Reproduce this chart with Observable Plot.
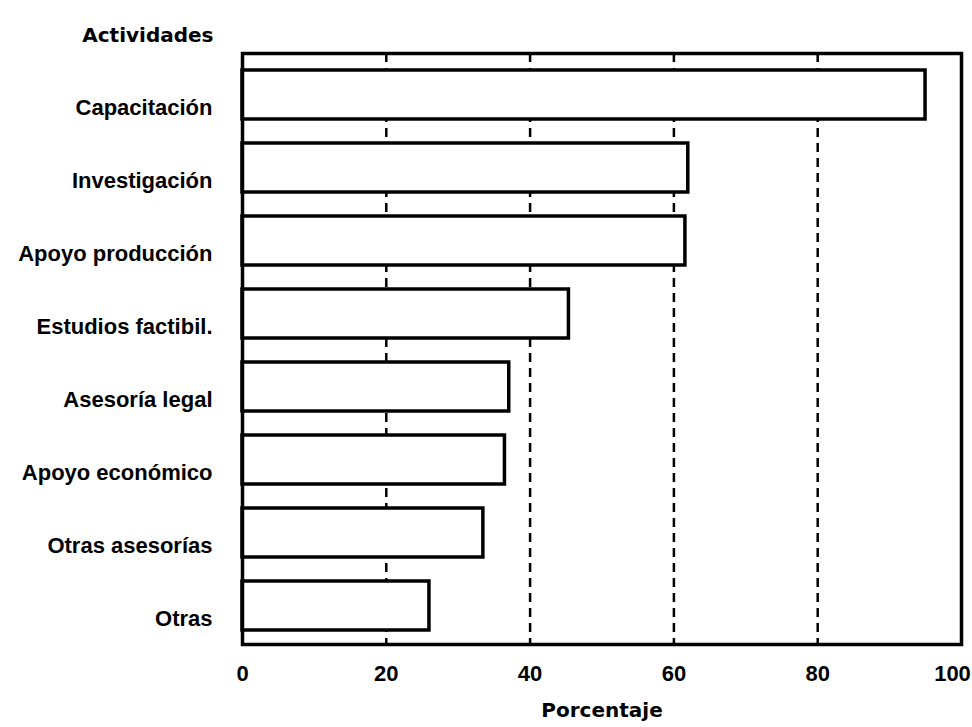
<!DOCTYPE html>
<html>
<head>
<meta charset="utf-8">
<script src="https://cdn.jsdelivr.net/npm/d3@7"></script>
<script src="https://cdn.jsdelivr.net/npm/@observablehq/plot@0.6"></script>
<style>
  html, body { margin: 0; padding: 0; background: #fff; }
  #chart svg { display: block; }
</style>
</head>
<body>
<div id="chart"></div>
<script>
const actividades = ["Capacitación", "Investigación", "Apoyo producción", "Estudios factibil.", "Asesoría legal", "Apoyo económico", "Otras asesorías", "Otras"];
const porcentajes = [95.0, 62.0, 61.6, 45.4, 37.1, 36.5, 33.5, 26.0];
const xTicks = [0, 20, 40, 60, 80];
const xLastTick = [100];
const gridValues = [20, 40, 60, 80];
const yTitle = "Actividades";
const xTitle = "Porcentaje";

const data = actividades.map((a, i) => ({actividad: a, valor: porcentajes[i]}));

const titleFont = "'DejaVu Sans', 'Liberation Sans', sans-serif";

const chart = Plot.plot({
  width: 972,
  height: 727,
  marginTop: 53,
  marginBottom: 83,
  marginLeft: 242,
  marginRight: 11,
  style: {fontFamily: "'Liberation Sans', Arial, sans-serif", fontSize: "22px", color: "#000", background: "#fff"},
  x: {domain: [0, 100], label: null, axis: null},
  y: {domain: actividades, paddingInner: 0.335, paddingOuter: 0.176, align: 0.55, label: null, axis: null},
  marks: [
    Plot.ruleX(gridValues, {stroke: "#000", strokeWidth: 2.5, strokeDasharray: "9,6"}),
    Plot.barX(data, {x: "valor", y: "actividad", fill: "#fff", stroke: "#000", strokeWidth: 3.5}),
    Plot.frame({stroke: "#000", strokeWidth: 3.5}),
    Plot.axisX(xTicks, {tickSize: 0, tickPadding: 21, fontSize: 22, fontWeight: "bold", label: null}),
    Plot.axisX(xLastTick, {tickSize: 0, tickPadding: 21, fontSize: 22, fontWeight: "bold", dx: -9, label: null}),
    Plot.axisY({tickSize: 0, tickPadding: 30, fontSize: 22, fontWeight: "bold", dy: 13, label: null}),
    Plot.text([yTitle], {text: d => d, frameAnchor: "top-left", dx: -29, dy: -26, textAnchor: "end", fontSize: 20, fontWeight: "bold", fontFamily: titleFont}),
    Plot.text([xTitle], {text: d => d, frameAnchor: "bottom", dy: 72, fontSize: 20, fontWeight: "bold", fontFamily: titleFont})
  ]
});
document.getElementById("chart").appendChild(chart);
</script>
</body>
</html>
